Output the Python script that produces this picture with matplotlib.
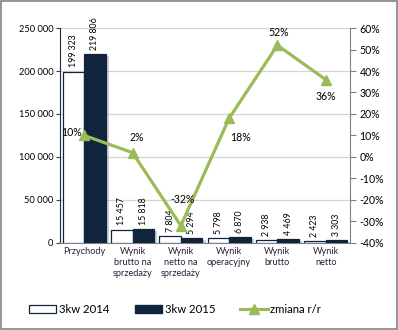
import numpy as np
import matplotlib.pyplot as plt
import matplotlib.patheffects as pe
from matplotlib.lines import Line2D
from matplotlib.patches import Patch, Rectangle

plt.rcParams['font.family'] = ['Lato', 'DejaVu Sans']

# data
categories = ['Przychody', 'Wynik\nbrutto na\nsprzedaży', 'Wynik\nnetto na\nsprzedaży',
              'Wynik\noperacyjny', 'Wynik\nbrutto', 'Wynik\nnetto']
kw2014 = [199323, 15457, 7804, 5798, 2938, 2423]
kw2015 = [219806, 15818, 5294, 6870, 4469, 3303]
zmiana = [10, 2, -32, 18, 52, 36]
# label offsets for % labels (points)
pct_off = [(-9, 2), (3, 11), (1, 19), (8, -14), (1, 9), (0, -12)]

navy = '#10243e'
green = '#9bbb59'

fig = plt.figure(figsize=(3.98, 3.30), dpi=100)
ax = fig.add_axes([0.151, 0.264, 0.728, 0.651])
ax2 = ax.twinx()

x = np.arange(len(categories))
w = 0.445
shadow = [pe.SimplePatchShadow(offset=(2.5, -1.5), alpha=0.35, shadow_rgbFace='gray'), pe.Normal()]
b1 = ax.bar(x - w/2, kw2014, w, color='white', edgecolor=navy, linewidth=0.9, zorder=3)
b2 = ax.bar(x + w/2, kw2015, w, color=navy, edgecolor=navy, linewidth=0.9, zorder=3)
for b in list(b1) + list(b2):
    b.set_path_effects(shadow)

def fmt(v):
    return f'{v:,}'.replace(',', ' ')

for xi, v in zip(x - w/2, kw2014):
    ax.annotate(fmt(v), (xi, v), xytext=(0, 3), textcoords='offset points',
                rotation=90, ha='center', va='bottom', fontsize=6.3, zorder=5)
for xi, v in zip(x + w/2, kw2015):
    ax.annotate(fmt(v), (xi, v), xytext=(0, 3), textcoords='offset points',
                rotation=90, ha='center', va='bottom', fontsize=6.3, zorder=5)

ax.set_xlim(-0.5, len(categories) - 0.5)
ax.set_ylim(0, 250000)
ax.set_yticks(np.arange(0, 250001, 50000))
ax.set_yticklabels([fmt(v) for v in range(0, 250001, 50000)], fontsize=6.7)
ax.set_xticks(x)
ax.set_xticklabels(categories, fontsize=6.6, color='#2a1f3a', linespacing=1.25)
ax.tick_params(axis='x', length=0, pad=3)
ax.tick_params(axis='y', length=3, width=0.8, color='#404040', pad=2)
ax.grid(axis='y', color='#d4d4d4', linewidth=0.9, zorder=0)
ax.set_axisbelow(True)
for s in ['top', 'right']:
    ax.spines[s].set_visible(False)
ax.spines['left'].set_color('#1f2a3a')
ax.spines['bottom'].set_color('#808080')

ax2.plot(x, zmiana, color=green, linewidth=2.3, marker='^', markersize=7, zorder=6)
ax2.set_ylim(-40, 60)
ax2.set_yticks(np.arange(-40, 61, 10))
ax2.set_yticklabels([f'{v}%' for v in range(-40, 61, 10)], fontsize=7.6)
ax2.tick_params(axis='y', length=4, width=0.8, color='#808080', pad=3)
for s in ['top', 'left', 'bottom']:
    ax2.spines[s].set_visible(False)
ax2.spines['right'].set_color('#808080')
for xi, v, off in zip(x, zmiana, pct_off):
    ax2.annotate(f'{v}%', (xi, v), xytext=off, textcoords='offset points',
                 ha='center', va='center', fontsize=7.6, zorder=7)

handles = [Patch(facecolor='white', edgecolor=navy, linewidth=0.9, label='3kw 2014'),
           Patch(facecolor=navy, edgecolor=navy, label='3kw 2015'),
           Line2D([0], [0], color=green, linewidth=2.3, marker='^', markersize=7, label='zmiana r/r')]
fig.legend(handles=handles, loc='center', bbox_to_anchor=(0.44, 0.062), ncol=3, frameon=False,
           fontsize=8.2, handlelength=2.4, handleheight=0.6, handletextpad=0.25, columnspacing=2.2)

fig.patches.append(Rectangle((0.002, 0.003), 0.995, 0.994, transform=fig.transFigure,
                             fill=False, edgecolor='#8c8c8c', linewidth=1.3))

fig.savefig('out.png', dpi=100)
